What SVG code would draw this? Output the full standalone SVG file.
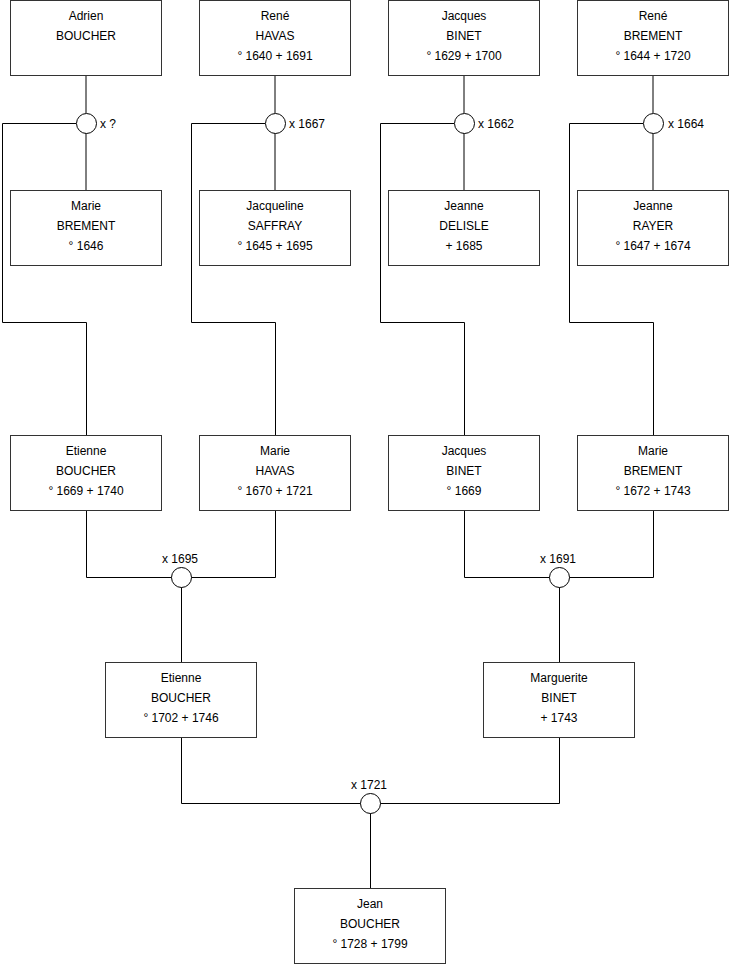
<svg xmlns="http://www.w3.org/2000/svg" width="740" height="975" viewBox="0 0 740 975">
<style>
.box{fill:#fff;stroke:#333;stroke-width:1}
.ln{fill:none;stroke:#000;stroke-width:1}
.ring{fill:#fff;stroke:#000;stroke-width:1}
text{font-family:"Liberation Sans",Arial,sans-serif;font-size:12px;fill:#000}
.c{text-anchor:middle}
</style>
<rect width="740" height="975" fill="#fff"/>
<g id="connectors">
<!-- top couples -->
<path class="ln" d="M86,75.5V113 M86,133V190.5 M76,123.5H2.5V322.5H86.5V435.5"/>
<path class="ln" d="M275,75.5V113 M275,133V190.5 M265,123.5H191.5V322.5H275.5V435.5"/>
<path class="ln" d="M464,75.5V113 M464,133V190.5 M454,123.5H380.5V322.5H464.5V435.5"/>
<path class="ln" d="M653,75.5V113 M653,133V190.5 M643,123.5H569.5V322.5H653.5V435.5"/>
<!-- middle couples -->
<path class="ln" d="M86.5,510.5V577.5H275.5V510.5 M181.5,587V662.5"/>
<path class="ln" d="M464.5,510.5V577.5H653.5V510.5 M559.5,587V662.5"/>
<!-- bottom couple -->
<path class="ln" d="M181.5,737.5V803.5H559.5V737.5 M370.5,813V888.5"/>
<circle class="ring" cx="86.5" cy="123.5" r="10"/>
<circle class="ring" cx="275.5" cy="123.5" r="10"/>
<circle class="ring" cx="464.5" cy="123.5" r="10"/>
<circle class="ring" cx="653.5" cy="123.5" r="10"/>
<circle class="ring" cx="181.5" cy="577.5" r="10"/>
<circle class="ring" cx="559.5" cy="577.5" r="10"/>
<circle class="ring" cx="370.5" cy="803.5" r="10"/>
<text x="100" y="128">x ?</text>
<text x="289" y="128">x 1667</text>
<text x="478" y="128">x 1662</text>
<text x="668" y="128">x 1664</text>
<text class="c" x="180" y="563">x 1695</text>
<text class="c" x="558" y="563">x 1691</text>
<text class="c" x="369" y="789">x 1721</text>
</g>
<g id="adrien-boucher"><rect class="box" x="10.5" y="0.5" width="151" height="75"/><text class="c" x="86" y="20">Adrien</text><text class="c" x="86" y="40">BOUCHER</text></g>
<g id="rene-havas"><rect class="box" x="199.5" y="0.5" width="151" height="75"/><text class="c" x="275" y="20">René</text><text class="c" x="275" y="40">HAVAS</text><text class="c" x="275" y="60">° 1640 + 1691</text></g>
<g id="jacques-binet-1629"><rect class="box" x="388.5" y="0.5" width="151" height="75"/><text class="c" x="464" y="20">Jacques</text><text class="c" x="464" y="40">BINET</text><text class="c" x="464" y="60">° 1629 + 1700</text></g>
<g id="rene-brement"><rect class="box" x="577.5" y="0.5" width="151" height="75"/><text class="c" x="653" y="20">René</text><text class="c" x="653" y="40">BREMENT</text><text class="c" x="653" y="60">° 1644 + 1720</text></g>

<g id="marie-brement-1646"><rect class="box" x="10.5" y="190.5" width="151" height="75"/><text class="c" x="86" y="210">Marie</text><text class="c" x="86" y="230">BREMENT</text><text class="c" x="86" y="250">° 1646</text></g>
<g id="jacqueline-saffray"><rect class="box" x="199.5" y="190.5" width="151" height="75"/><text class="c" x="275" y="210">Jacqueline</text><text class="c" x="275" y="230">SAFFRAY</text><text class="c" x="275" y="250">° 1645 + 1695</text></g>
<g id="jeanne-delisle"><rect class="box" x="388.5" y="190.5" width="151" height="75"/><text class="c" x="464" y="210">Jeanne</text><text class="c" x="464" y="230">DELISLE</text><text class="c" x="464" y="250">+ 1685</text></g>
<g id="jeanne-rayer"><rect class="box" x="577.5" y="190.5" width="151" height="75"/><text class="c" x="653" y="210">Jeanne</text><text class="c" x="653" y="230">RAYER</text><text class="c" x="653" y="250">° 1647 + 1674</text></g>

<g id="etienne-boucher-1669"><rect class="box" x="10.5" y="435.5" width="151" height="75"/><text class="c" x="86" y="455">Etienne</text><text class="c" x="86" y="475">BOUCHER</text><text class="c" x="86" y="495">° 1669 + 1740</text></g>
<g id="marie-havas"><rect class="box" x="199.5" y="435.5" width="151" height="75"/><text class="c" x="275" y="455">Marie</text><text class="c" x="275" y="475">HAVAS</text><text class="c" x="275" y="495">° 1670 + 1721</text></g>
<g id="jacques-binet-1669"><rect class="box" x="388.5" y="435.5" width="151" height="75"/><text class="c" x="464" y="455">Jacques</text><text class="c" x="464" y="475">BINET</text><text class="c" x="464" y="495">° 1669</text></g>
<g id="marie-brement-1672"><rect class="box" x="577.5" y="435.5" width="151" height="75"/><text class="c" x="653" y="455">Marie</text><text class="c" x="653" y="475">BREMENT</text><text class="c" x="653" y="495">° 1672 + 1743</text></g>

<g id="etienne-boucher-1702"><rect class="box" x="105.5" y="662.5" width="151" height="75"/><text class="c" x="181" y="682">Etienne</text><text class="c" x="181" y="702">BOUCHER</text><text class="c" x="181" y="722">° 1702 + 1746</text></g>
<g id="marguerite-binet"><rect class="box" x="483.5" y="662.5" width="151" height="75"/><text class="c" x="559" y="682">Marguerite</text><text class="c" x="559" y="702">BINET</text><text class="c" x="559" y="722">+ 1743</text></g>

<g id="jean-boucher"><rect class="box" x="294.5" y="888.5" width="151" height="75"/><text class="c" x="370" y="908">Jean</text><text class="c" x="370" y="928">BOUCHER</text><text class="c" x="370" y="948">° 1728 + 1799</text></g>
</svg>
